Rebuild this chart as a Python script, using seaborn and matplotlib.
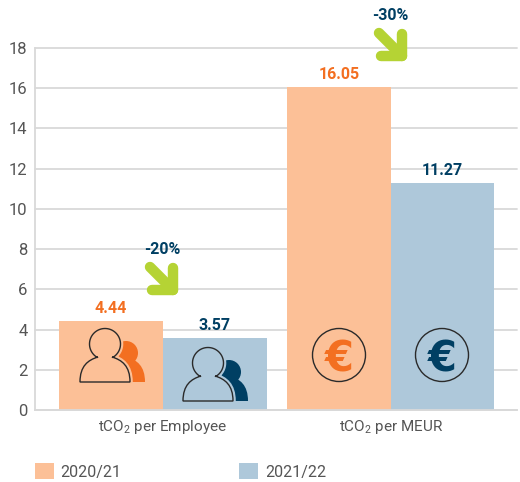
import numpy as np
import pandas as pd
import matplotlib.pyplot as plt
import seaborn as sns
from matplotlib.patches import Circle, PathPatch
from matplotlib.path import Path

metrics = ["tCO$_2$ per Employee", "tCO$_2$ per MEUR"]
years = ["2020/21", "2021/22"]
values_2020 = [4.44, 16.05]
values_2021 = [3.57, 11.27]
y_ticks = [0, 2, 4, 6, 8, 10, 12, 14, 16, 18]
changes = ["-20%", "-30%"]

ORANGE_LIGHT = "#fcc097"
BLUE_LIGHT = "#aec8da"
ORANGE = "#f36f21"
NAVY = "#003f63"
GREEN = "#b5d334"
GREY = "#d9d9d9"
TEXT = "#555555"
OUTLINE = "#2a2a2a"

sns.set_theme(style="white")
plt.rcParams["font.family"] = ["Roboto", "DejaVu Sans"]
plt.rcParams["mathtext.fontset"] = "custom"
plt.rcParams["mathtext.rm"] = "Roboto"
plt.rcParams["mathtext.default"] = "regular"

df = pd.DataFrame({
    "metric": metrics * 2,
    "year": [years[0]] * 2 + [years[1]] * 2,
    "value": values_2020 + values_2021,
})

fig = plt.figure(figsize=(5.2, 4.82), dpi=100)
ax = fig.add_axes([34.5 / 520, 72 / 482, 482.5 / 520, 362 / 482])
sns.barplot(
    data=df,
    x="metric",
    y="value",
    hue="year",
    palette=[ORANGE_LIGHT, BLUE_LIGHT],
    width=0.91,
    gap=0,
    saturation=1,
    linewidth=0,
    ax=ax,
)
ax.set_xlim(-0.563, 1.554)
ax.set_ylim(0, 18)
ax.set_yticks(y_ticks)
ax.set_xlabel("")
ax.set_ylabel("")
ax.set_axisbelow(True)
ax.grid(axis="y", color=GREY, lw=1.3, clip_on=False)
ax.tick_params(axis="x", length=0, labelsize=11, labelcolor=TEXT, pad=6)
ax.tick_params(axis="y", length=0, labelsize=12, labelcolor=TEXT, pad=5)
for side in ["top", "right"]:
    ax.spines[side].set_visible(False)
for side in ["left", "bottom"]:
    ax.spines[side].set_color(GREY)
    ax.spines[side].set_linewidth(1.3)

for container, color in zip(ax.containers, [ORANGE, NAVY]):
    ax.bar_label(container, fmt="%.2f", padding=3.5, color=color, fontsize=11.5, fontweight="bold")

ax.legend(
    loc="upper left",
    bbox_to_anchor=(0.001, -0.147),
    ncol=2,
    frameon=False,
    fontsize=11.5,
    labelcolor=TEXT,
    handlelength=1.19,
    handleheight=1.19,
    handletextpad=0.42,
    columnspacing=7.35,
    borderpad=0,
    borderaxespad=0,
)

# overlay in pixel coordinates for the icons and arrows
over = fig.add_axes([0, 0, 1, 1], facecolor="none")
over.set_xlim(0, 520)
over.set_ylim(482, 0)
over.axis("off")


def body_path(x, y):
    verts = [(x, y + 37), (x, y + 21), (x + 8, y + 15), (x + 18, y + 12),
             (x + 22, y + 11), (x + 28, y + 11), (x + 32, y + 12),
             (x + 42, y + 15), (x + 50, y + 21), (x + 50, y + 37), (x, y + 37)]
    codes = [Path.MOVETO, Path.CURVE4, Path.CURVE4, Path.CURVE4,
             Path.CURVE4, Path.CURVE4, Path.CURVE4,
             Path.CURVE4, Path.CURVE4, Path.CURVE4, Path.CLOSEPOLY]
    return Path(verts, codes)


def outline_path(x, y):
    # one closed line: body, left notch, round the head, right notch
    cx, cy, r = x + 25, y - 1, 15.5
    verts = [(x, y + 37), (x, y + 21), (x + 8, y + 15), (x + 18, y + 12)]
    codes = [Path.MOVETO, Path.CURVE4, Path.CURVE4, Path.CURVE4]
    for a in np.radians(np.linspace(240, -60, 60)):
        verts.append((cx + r * np.cos(a), cy - r * np.sin(a)))
        codes.append(Path.LINETO)
    verts += [(x + 32, y + 12), (x + 42, y + 15), (x + 50, y + 21), (x + 50, y + 37), (x, y + 37)]
    codes += [Path.LINETO, Path.CURVE4, Path.CURVE4, Path.CURVE4, Path.CLOSEPOLY]
    return Path(verts, codes)


def person(x, y, fill, dark):
    # shadow figure behind, then a halo in the bar colour, then the outline
    over.add_patch(Circle((x + 46, y + 8), 12, fc=dark, ec="none"))
    over.add_patch(PathPatch(body_path(x + 15, y), fc=dark, ec="none"))
    over.add_patch(PathPatch(outline_path(x, y), fc=fill, ec=fill, lw=4))
    over.add_patch(PathPatch(outline_path(x, y), fc=fill, ec=OUTLINE, lw=1))


def euro(x, y, color):
    over.add_patch(Circle((x, y), 26.5, fc="none", ec=OUTLINE, lw=1))
    over.text(x, y, "€", color=color, fontsize=30, fontweight="bold",
              family="DejaVu Sans", ha="center", va="center_baseline")


def arrow(x, y):
    # x, y is the corner of the arrow head
    over.plot([x - 23, x], [y - 23, y], color=GREEN, lw=7.5, solid_capstyle="round")
    over.plot([x, x, x - 21], [y - 22, y, y], color=GREEN, lw=7.5,
              solid_capstyle="round", solid_joinstyle="round")


person(80, 345, ORANGE_LIGHT, ORANGE)
person(183, 364, BLUE_LIGHT, NAVY)
euro(339, 355, ORANGE)
euro(442, 355, NAVY)
arrow(173, 290)
arrow(402, 56)
over.text(162, 249, changes[0], color=NAVY, fontsize=11.5, fontweight="bold", ha="center", va="center")
over.text(390, 16, changes[1], color=NAVY, fontsize=11.5, fontweight="bold", ha="center", va="center")

plt.savefig("out.png", dpi=100)
plt.close()
